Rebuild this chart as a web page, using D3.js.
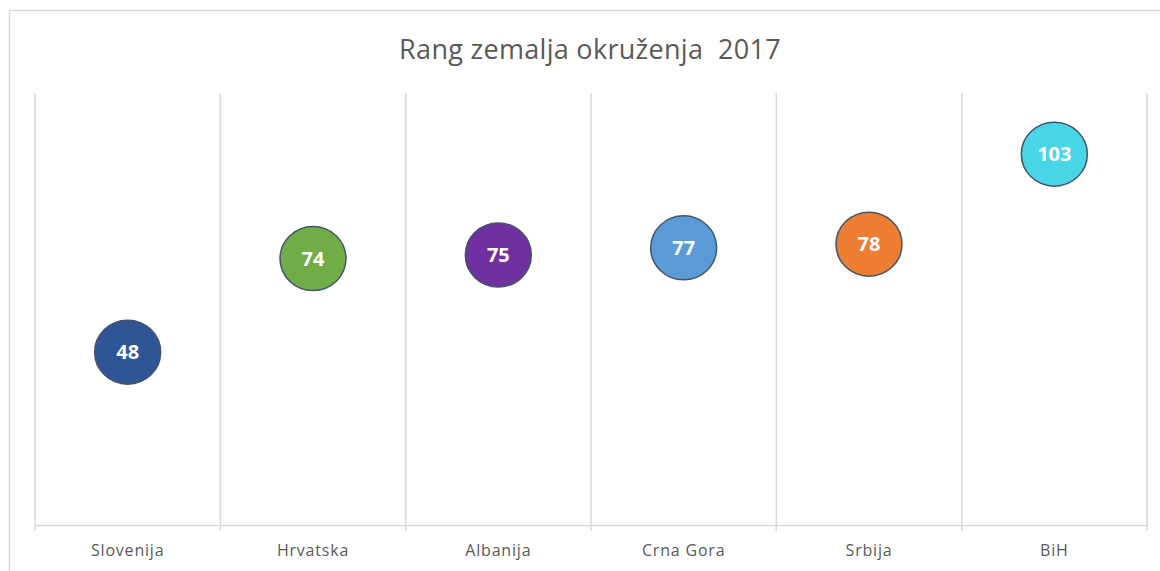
<!DOCTYPE html>
<html>
<head>
<meta charset="utf-8">
<script src="https://cdn.jsdelivr.net/npm/d3@7"></script>
<style>
html,body{margin:0;padding:0;background:#fff;}
svg{display:block;}
</style>
</head>
<body>
<svg id="chart" width="1160" height="571"></svg>
<script>
const categories = ["Slovenija", "Hrvatska", "Albanija", "Crna Gora", "Srbija", "BiH"];
const values = [48, 74, 75, 77, 78, 103];
const colors = ["#2F5597", "#70AD47", "#7030A0", "#5B9BD5", "#ED7D31", "#48D6E6"];
const titleText = "Rang zemalja okruženja  2017";
const yDomain = [0, 120];

const svg = d3.select("#chart");
const W = 1160, H = 571;
const m = {left: 35, right: 13, top: 93, bottom: 46};
const fontFam = "'Open Sans', 'Noto Sans', sans-serif";

// outer border
svg.append("rect").attr("x", 9.5).attr("y", 10.5).attr("width", 1160).attr("height", 580)
  .attr("fill", "#fff").attr("stroke", "#d9d9d9").attr("stroke-width", 1.5);

const x = d3.scaleBand().domain(categories).range([m.left, W - m.right]).padding(0);
const y = d3.scaleLinear().domain(yDomain).range([H - m.bottom, m.top]);

// vertical gridlines at category boundaries
const bounds = categories.map(c => x(c)).concat([x.range()[1]]);
svg.append("g").selectAll("line").data(bounds).join("line")
  .attr("x1", d => d).attr("x2", d => d)
  .attr("y1", y(yDomain[1])).attr("y2", y(0))
  .attr("stroke", "#d9d9d9").attr("stroke-width", 1.5);

// x axis
const xAxis = d3.axisBottom(x).tickSize(0).tickPadding(20);
const gx = svg.append("g").attr("transform", `translate(0,${y(0)})`).call(xAxis);
gx.select(".domain").attr("stroke", "#d9d9d9").attr("stroke-width", 1.5);
gx.selectAll("text").attr("font-family", fontFam).attr("font-size", 16)
  .attr("letter-spacing", "0.8px").attr("fill", "#595959");
svg.append("g").selectAll("line").data(bounds).join("line")
  .attr("x1", d => d).attr("x2", d => d)
  .attr("y1", y(0)).attr("y2", y(0) + 6)
  .attr("stroke", "#d9d9d9").attr("stroke-width", 1.5);

// title
svg.append("text").attr("x", 590).attr("y", 59).attr("text-anchor", "middle")
  .attr("font-family", fontFam).attr("font-size", 27).attr("letter-spacing", "0.3px").attr("fill", "#595959")
  .style("white-space", "pre").attr("xml:space", "preserve").text(titleText);

// bubbles
const pts = categories.map((c, i) => ({c, v: values[i], col: colors[i]}));
const g = svg.append("g");
g.selectAll("ellipse").data(pts).join("ellipse")
  .attr("cx", d => x(d.c) + x.bandwidth() / 2)
  .attr("cy", d => y(d.v))
  .attr("rx", 33).attr("ry", 32)
  .attr("fill", d => d.col)
  .attr("stroke", "#44546A").attr("stroke-width", 1.5);
g.selectAll("text").data(pts).join("text")
  .attr("x", d => x(d.c) + x.bandwidth() / 2)
  .attr("y", d => y(d.v))
  .attr("dy", "0.36em")
  .attr("text-anchor", "middle")
  .attr("font-family", fontFam).attr("font-weight", "bold").attr("font-size", 20)
  .attr("fill", "#fff").text(d => d.v);
</script>
</body>
</html>
